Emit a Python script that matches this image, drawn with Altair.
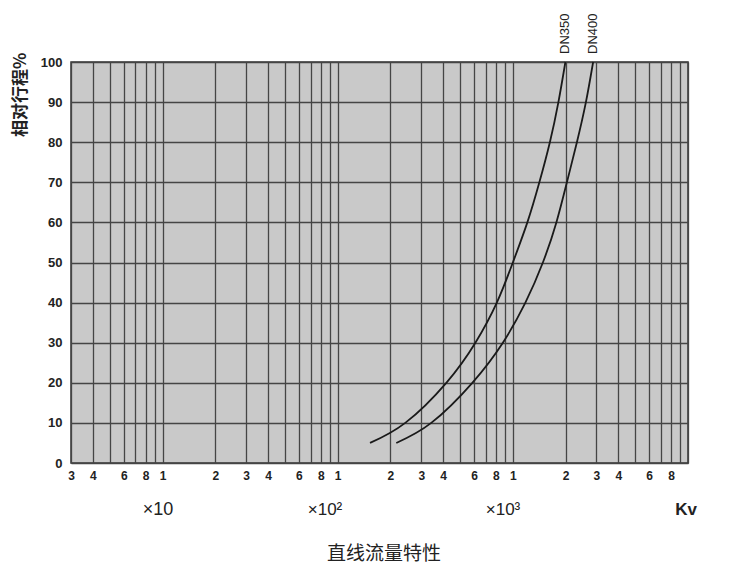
import altair as alt
import pandas as pd

# ---- data ----
travel = [5, 10, 20, 30, 40, 50, 60, 70, 80, 90, 100]
kv_dn350 = [153, 243, 417, 611, 810, 1000, 1210, 1417, 1627, 1820, 1995]
kv_dn400 = [216, 342, 587, 877, 1179, 1484, 1772, 2035, 2321, 2613, 2873]
series_names = ["DN350", "DN400"]

grid_values = [3, 4, 5, 6, 7, 8, 9,
               10, 20, 30, 40, 50, 60, 70, 80, 90,
               100, 200, 300, 400, 500, 600, 700, 800, 900,
               1000, 2000, 3000, 4000, 5000, 6000, 7000, 8000, 9000, 10000]
label_values = [3, 4, 6, 8, 10, 20, 30, 40, 60, 80, 100, 200, 300, 400, 600, 800,
                1000, 2000, 3000, 4000, 6000, 8000]
label_texts = ["3", "4", "6", "8", "1", "2", "3", "4", "6", "8", "1",
               "2", "3", "4", "6", "8", "1", "2", "3", "4", "6", "8"]
y_ticks = [0, 10, 20, 30, 40, 50, 60, 70, 80, 90, 100]
decade_notes = ["×10", "×10²", "×10³", "Kv"]
y_title = "相对行程%"
caption = "直线流量特性"

rows = []
for name, kvs in zip(series_names, [kv_dn350, kv_dn400]):
    for t, k in zip(travel, kvs):
        rows.append({"series": name, "kv": k, "travel": t})
df = pd.DataFrame(rows)
ends = pd.DataFrame({"series": series_names,
                     "kv": [kv_dn350[-1], kv_dn400[-1]],
                     "travel": [travel[-1], travel[-1]]})

label_expr = " : ".join(
    f"datum.value == {v} ? '{t}'" for v, t in zip(label_values, label_texts)
) + " : ''"

xscale = alt.Scale(type="log", domain=[3, 10000], nice=False)
yscale = alt.Scale(domain=[0, 100], nice=False)

grid_col = "#454545"
xaxis = alt.Axis(values=grid_values, labelExpr=label_expr, title=None,
                 ticks=False, domain=False, grid=True, gridColor=grid_col,
                 gridWidth=1.3, gridOpacity=1, labelFont="Liberation Sans",
                 labelFontWeight="bold", labelFontSize=12, labelColor="#222",
                 labelPadding=7, labelFlush=False, labelOverlap=False)
yaxis = alt.Axis(values=y_ticks, title=y_title, titleFont="Noto Sans CJK SC",
                 titleFontSize=17, titleFontWeight="bold", titleAngle=270,
                 titleAlign="right", titleBaseline="middle", titleX=-51,
                 titleY=-10, titleColor="#222",
                 ticks=False, domain=False, grid=True, gridColor=grid_col,
                 gridWidth=1.3, gridOpacity=1, labelFont="Liberation Sans",
                 labelFontWeight="bold", labelFontSize=13, labelColor="#222",
                 labelPadding=9)

lines = alt.Chart(df).mark_line(color="#1a1a1a", strokeWidth=1.8,
                                interpolate="natural").encode(
    x=alt.X("kv:Q", scale=xscale, axis=xaxis),
    y=alt.Y("travel:Q", scale=yscale, axis=yaxis),
    detail="series:N",
    order="travel:Q",
)

end_labels = alt.Chart(ends).mark_text(
    angle=270, align="left", baseline="middle", dx=8,
    font="Liberation Sans", fontSize=13, color="#222"
).encode(x=alt.X("kv:Q", scale=xscale), y=alt.Y("travel:Q", scale=yscale),
         text="series:N")

note_x = [87, 254, 432, 615]
note_size = [18, 17, 17, 17]
note_layers = []
for txt, px, fs in zip(decade_notes, note_x, note_size):
    note_layers.append(
        alt.Chart(pd.DataFrame({"t": [txt]})).mark_text(
            font="Liberation Sans", fontSize=fs,
            fontWeight="bold" if txt == "Kv" else "normal",
            color="#222", baseline="middle", align="center"
        ).encode(x=alt.value(px), y=alt.value(448), text="t:N")
    )

cap = alt.Chart(pd.DataFrame({"t": [caption]})).mark_text(
    font="Noto Sans CJK SC", fontSize=19, color="#222",
    baseline="middle", align="center"
).encode(x=alt.value(313), y=alt.value(492), text="t:N")

chart = alt.layer(lines, end_labels, *note_layers, cap).properties(
    width=617, height=401,
    padding={"left": 63, "top": 54, "right": 25, "bottom": 103},
    autosize=alt.AutoSizeParams(type="none"),
).configure(background="white").configure_view(
    fill="#c9c9c9", stroke="#333333", strokeWidth=1.5)

chart.save("out.html", embed_options={"renderer": "svg", "actions": False})
